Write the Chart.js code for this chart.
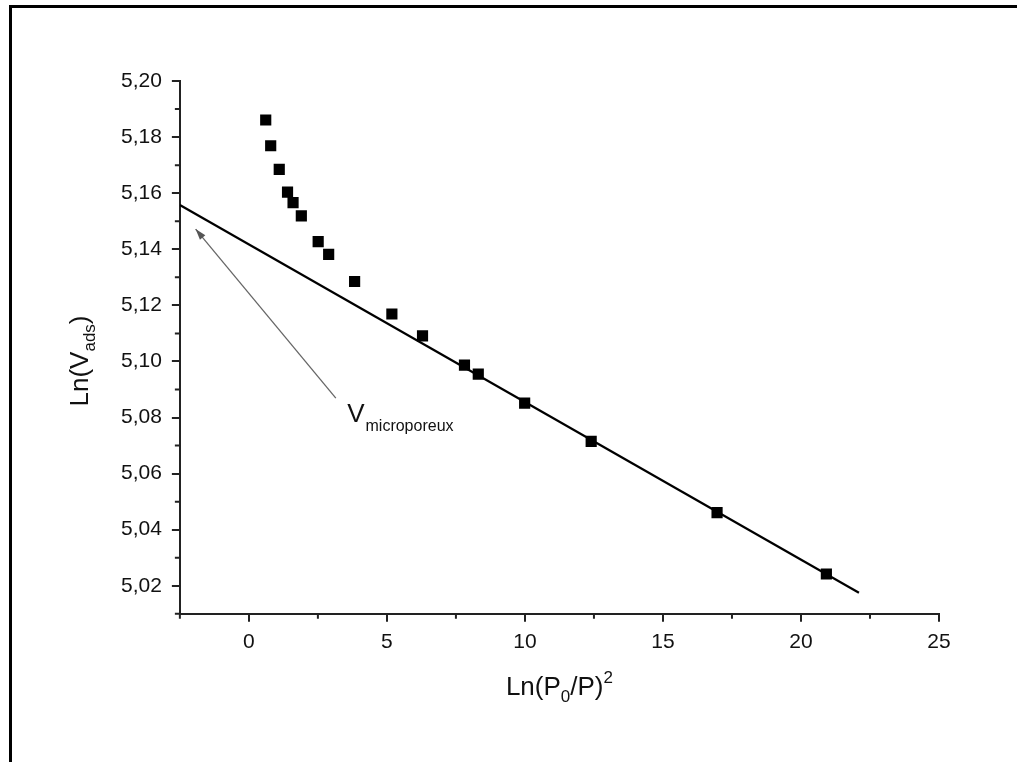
<!DOCTYPE html>
<html>
<head>
<meta charset="utf-8">
<script src="https://cdn.jsdelivr.net/npm/chart.js@4.4.1/dist/chart.umd.min.js"></script>
<style>
html, body { margin: 0; padding: 0; background: #fff; }
#wrap { position: relative; width: 1017px; height: 762px; overflow: hidden; }
#frame { position: absolute; left: 9px; top: 5px; width: 1100px; height: 900px; border-left: 3px solid #000; border-top: 3px solid #000; }
canvas { position: absolute; left: 0; top: 0; }
</style>
</head>
<body>
<div id="wrap">
  <div id="frame"></div>
  <canvas id="chart" width="1017" height="762"></canvas>
</div>
<script>
// measured points: Ln(P0/P)^2 vs Ln(Vads)
const xVals = [0.61, 0.79, 1.10, 1.40, 1.60, 1.90, 2.51, 2.89, 3.83, 5.18, 6.29, 7.81, 8.31, 9.99, 12.40, 16.96, 20.92];
const yVals = [5.1861, 5.1769, 5.1685, 5.1604, 5.1566, 5.1519, 5.1427, 5.1382, 5.1285, 5.1169, 5.1091, 5.0987, 5.0955, 5.0851, 5.0715, 5.0461, 5.0242];

// linear fit drawn through the straight part
const fitX = [-2.5, 22.1];
const fitY = [5.1558, 5.0175];

// pointer to the intercept (tail -> head) and its label anchor
const arrowX = [3.15, -1.93];
const arrowY = [5.0869, 5.1472];
const labelAt = { x: 3.56, y: 5.0785 };

const xTicks = [0, 5, 10, 15, 20, 25];
const xTickLabels = ['0', '5', '10', '15', '20', '25'];
const xMinor = [-2.5, 2.5, 7.5, 12.5, 17.5, 22.5];
const yTicks = [5.02, 5.04, 5.06, 5.08, 5.10, 5.12, 5.14, 5.16, 5.18, 5.20];
const yTickLabels = ['5,02', '5,04', '5,06', '5,08', '5,10', '5,12', '5,14', '5,16', '5,18', '5,20'];
const yMinor = [5.01, 5.03, 5.05, 5.07, 5.09, 5.11, 5.13, 5.15, 5.17, 5.19];

const FONT = '"Liberation Sans", Arial, sans-serif';
const INK = '#111';

function near(list, v) {
    return list.findIndex(t => Math.abs(t - v) < 1e-6);
}

function richText(c, parts, x, y) {
    let w = 0;
    for (const p of parts) {
        c.font = p.size + 'px ' + FONT;
        p.w = c.measureText(p.t).width;
        w += p.w;
    }
    let cx = x - w / 2;
    for (const p of parts) {
        c.font = p.size + 'px ' + FONT;
        c.fillText(p.t, cx, y + (p.dy || 0));
        cx += p.w;
    }
}

const extras = {
    id: 'extras',
    afterDraw(chart) {
        const c = chart.ctx;
        const xs = chart.scales.x, ys = chart.scales.y;
        const area = chart.chartArea;
        c.save();

        // minor ticks
        c.strokeStyle = '#222';
        c.lineWidth = 2;
        c.beginPath();
        for (const v of xMinor) {
            const px = xs.getPixelForValue(v);
            c.moveTo(px, area.bottom);
            c.lineTo(px, area.bottom + 5);
        }
        for (const v of yMinor) {
            const py = ys.getPixelForValue(v);
            c.moveTo(area.left, py);
            c.lineTo(area.left - 5, py);
        }
        c.stroke();

        // arrow head
        const tx = xs.getPixelForValue(arrowX[0]), ty = ys.getPixelForValue(arrowY[0]);
        const hx = xs.getPixelForValue(arrowX[1]), hy = ys.getPixelForValue(arrowY[1]);
        const a = Math.atan2(hy - ty, hx - tx);
        c.fillStyle = '#555';
        c.beginPath();
        c.moveTo(hx, hy);
        c.lineTo(hx - 11 * Math.cos(a) + 3.5 * Math.sin(a), hy - 11 * Math.sin(a) - 3.5 * Math.cos(a));
        c.lineTo(hx - 11 * Math.cos(a) - 3.5 * Math.sin(a), hy - 11 * Math.sin(a) + 3.5 * Math.cos(a));
        c.closePath();
        c.fill();

        // annotation label
        c.fillStyle = INK;
        c.textBaseline = 'alphabetic';
        c.textAlign = 'left';
        const lx = xs.getPixelForValue(labelAt.x), ly = ys.getPixelForValue(labelAt.y);
        c.font = '26px ' + FONT;
        c.fillText('V', lx, ly);
        const vw = c.measureText('V').width;
        c.font = '16px ' + FONT;
        c.fillText('microporeux', lx + vw + 1, ly + 9);

        // axis titles
        richText(c, [
            { t: 'Ln(P', size: 26 },
            { t: '0', size: 17, dy: 7 },
            { t: '/P)', size: 26 },
            { t: '2', size: 17, dy: -12 }
        ], (area.left + area.right) / 2, 695);

        c.translate(88, 361);
        c.rotate(-Math.PI / 2);
        richText(c, [
            { t: 'Ln(V', size: 26 },
            { t: 'ads', size: 17, dy: 7 },
            { t: ')', size: 26 }
        ], 0, 0);

        c.restore();
    }
};

const axisGrid = list => ({
    drawOnChartArea: false,
    tickLength: 8,
    lineWidth: 2,
    color: ctx => (ctx.tick && near(list, ctx.tick.value) >= 0) ? '#222' : 'rgba(0,0,0,0)'
});

new Chart(document.getElementById('chart'), {
    type: 'scatter',
    data: {
        datasets: [
            {
                label: 'points',
                data: xVals.map((x, i) => ({ x: x, y: yVals[i] })),
                pointStyle: 'rect',
                pointRadius: 7.9,
                pointHoverRadius: 7.9,
                backgroundColor: '#000',
                borderColor: '#000',
                borderWidth: 0
            },
            {
                label: 'fit',
                data: fitX.map((x, i) => ({ x: x, y: fitY[i] })),
                showLine: true,
                borderColor: '#000',
                borderWidth: 2.2,
                pointRadius: 0
            },
            {
                label: 'pointer',
                data: arrowX.map((x, i) => ({ x: x, y: arrowY[i] })),
                showLine: true,
                borderColor: '#666',
                borderWidth: 1.3,
                pointRadius: 0
            }
        ]
    },
    options: {
        responsive: false,
        animation: false,
        layout: { padding: { left: 111, top: 81, right: 78, bottom: 99 } },
        plugins: { legend: { display: false }, tooltip: { enabled: false } },
        scales: {
            x: {
                type: 'linear',
                min: -2.5,
                max: 25,
                afterBuildTicks: s => { s.ticks = xTicks.map(v => ({ value: v })); },
                ticks: {
                    autoSkip: false,
                    maxRotation: 0,
                    padding: 8,
                    color: INK,
                    font: { family: FONT, size: 21 },
                    callback: v => { const i = near(xTicks, v); return i >= 0 ? xTickLabels[i] : ''; }
                },
                grid: axisGrid(xTicks),
                border: { color: '#222', width: 2 }
            },
            y: {
                type: 'linear',
                min: 5.01,
                max: 5.20,
                afterBuildTicks: s => { s.ticks = yTicks.map(v => ({ value: v })); },
                ticks: {
                    autoSkip: false,
                    padding: 10,
                    color: INK,
                    font: { family: FONT, size: 21 },
                    callback: v => { const i = near(yTicks, v); return i >= 0 ? yTickLabels[i] : ''; }
                },
                grid: axisGrid(yTicks),
                border: { color: '#222', width: 2 }
            }
        }
    },
    plugins: [extras]
});
</script>
</body>
</html>
